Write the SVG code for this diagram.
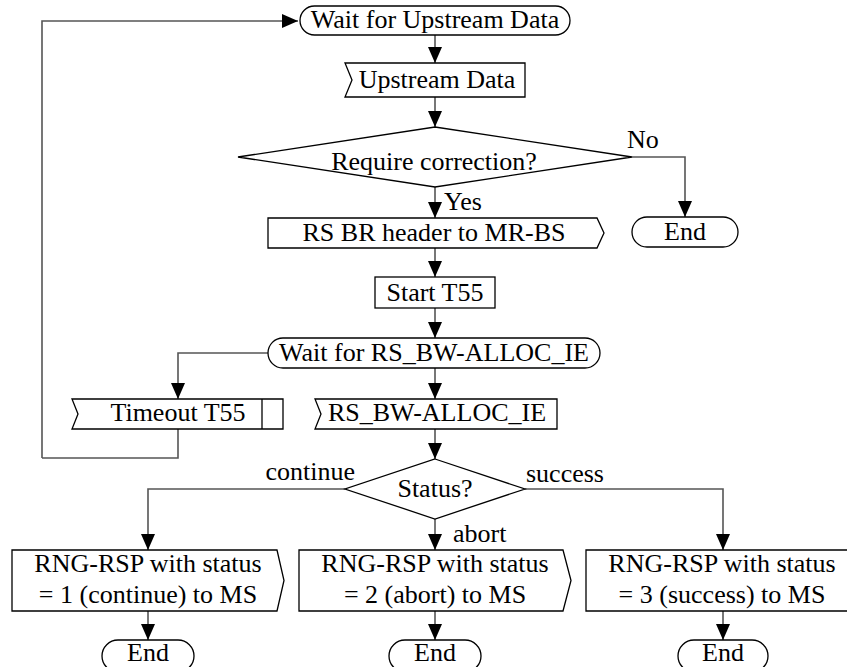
<svg xmlns="http://www.w3.org/2000/svg" width="847" height="667" viewBox="0 0 847 667">
<defs>
<marker id="arr" viewBox="0 0 16 14" refX="16" refY="7" markerWidth="16" markerHeight="14" markerUnits="userSpaceOnUse" orient="auto">
<path d="M0,0 L16,7 L0,14 Z" fill="#000"/>
</marker>
<style>
.s{fill:#fff;stroke:#000;stroke-width:1.3}
.c{fill:none;stroke:#555;stroke-width:1.6}
.a{marker-end:url(#arr)}
.m{text-anchor:middle}
</style>
</defs>
<rect width="847" height="667" fill="#fff"/>
<g id="connectors">
<path class="c a" d="M42,458 V21 H298"/>
<path class="c a" d="M435,34 V63"/>
<path class="c a" d="M435,97 V127"/>
<path class="c a" d="M632,157 H685 V217"/>
<path class="c a" d="M435,187 V218"/>
<path class="c a" d="M435,248 V277"/>
<path class="c a" d="M435,308 V338"/>
<path class="c a" d="M268,353 H178 V399"/>
<path class="c a" d="M435,368 V399"/>
<path class="c" d="M178,429 V458 H42"/>
<path class="c a" d="M435,429 V459"/>
<path class="c a" d="M345,489 H148 V550"/>
<path class="c a" d="M525,489 H723 V550"/>
<path class="c a" d="M435,519 V550"/>
<path class="c a" d="M148,611 V640"/>
<path class="c a" d="M435,611 V640"/>
<path class="c a" d="M723,611 V640"/>
<text font-family="Liberation Serif" font-size="26" x="627" y="148">No</text>
<text font-family="Liberation Serif" font-size="26" x="444" y="210">Yes</text>
<text font-family="Liberation Serif" font-size="26" x="355" y="480" text-anchor="end">continue</text>
<text font-family="Liberation Serif" font-size="26" x="526" y="482">success</text>
<text font-family="Liberation Serif" font-size="26" x="453" y="542">abort</text>
</g>
<g id="wait_upstream">
<rect class="s" x="300" y="6" width="270" height="29" rx="14.5"/>
<text font-family="Liberation Serif" font-size="26" class="m" x="435" y="28">Wait for Upstream Data</text>
</g>
<g id="upstream_data">
<path class="s" d="M345,63 H525 V97 H345 L352,80 Z"/>
<text font-family="Liberation Serif" font-size="26" class="m" x="437" y="88">Upstream Data</text>
</g>
<g id="require_correction">
<path class="s" d="M435,127 L632,157 L435,187 L238,157 Z"/>
<text font-family="Liberation Serif" font-size="26" class="m" x="434" y="170">Require correction?</text>
</g>
<g id="end_no">
<rect class="s" x="632" y="217" width="106" height="30" rx="15"/>
<text font-family="Liberation Serif" font-size="26" class="m" x="685" y="240">End</text>
</g>
<g id="rs_br_header">
<path class="s" d="M268,218 H597 L604,233 L597,248 H268 Z"/>
<text font-family="Liberation Serif" font-size="26" class="m" x="434" y="241">RS BR header to MR-BS</text>
</g>
<g id="start_t55">
<rect class="s" x="375" y="277" width="120" height="31"/>
<text font-family="Liberation Serif" font-size="26" class="m" x="435" y="301">Start T55</text>
</g>
<g id="wait_rs_bw">
<rect class="s" x="268" y="338" width="332" height="30" rx="15"/>
<text font-family="Liberation Serif" font-size="26" class="m" x="434" y="361">Wait for RS_BW-ALLOC_IE</text>
</g>
<g id="timeout_t55">
<path class="s" d="M72,399 H283 V429 H72 L78,414 Z"/>
<line x1="262" y1="399" x2="262" y2="429" stroke="#000" stroke-width="1.3"/>
<text font-family="Liberation Serif" font-size="26" class="m" x="178" y="421">Timeout T55</text>
</g>
<g id="rs_bw_alloc">
<path class="s" d="M315,399 H557 V429 H315 L321,414 Z"/>
<text font-family="Liberation Serif" font-size="26" class="m" x="437" y="421">RS_BW-ALLOC_IE</text>
</g>
<g id="status">
<path class="s" d="M435,459 L525,489 L435,519 L345,489 Z"/>
<text font-family="Liberation Serif" font-size="26" class="m" x="435" y="497">Status?</text>
</g>
<g id="rng_continue">
<path class="s" d="M12,550 H277 L284,580.5 L277,611 H12 Z"/>
<text font-family="Liberation Serif" font-size="26" class="m" x="148" y="572">RNG-RSP with status</text>
<text font-family="Liberation Serif" font-size="26" class="m" x="148" y="603">= 1 (continue) to MS</text>
</g>
<g id="rng_abort">
<path class="s" d="M299,550 H563 L571,580.5 L563,611 H299 Z"/>
<text font-family="Liberation Serif" font-size="26" class="m" x="435" y="572">RNG-RSP with status</text>
<text font-family="Liberation Serif" font-size="26" class="m" x="435" y="603">= 2 (abort) to MS</text>
</g>
<g id="rng_success">
<path class="s" d="M586,550 H858 L866,580.5 L858,611 H586 Z"/>
<text font-family="Liberation Serif" font-size="26" class="m" x="722" y="572">RNG-RSP with status</text>
<text font-family="Liberation Serif" font-size="26" class="m" x="722" y="603">= 3 (success) to MS</text>
</g>
<g id="end_continue">
<rect class="s" x="102" y="640" width="92" height="32" rx="16"/>
<text font-family="Liberation Serif" font-size="26" class="m" x="148" y="661">End</text>
</g>
<g id="end_abort">
<rect class="s" x="389" y="640" width="92" height="32" rx="16"/>
<text font-family="Liberation Serif" font-size="26" class="m" x="435" y="661">End</text>
</g>
<g id="end_success">
<rect class="s" x="678" y="640" width="90" height="32" rx="16"/>
<text font-family="Liberation Serif" font-size="26" class="m" x="723" y="661">End</text>
</g>
</svg>
